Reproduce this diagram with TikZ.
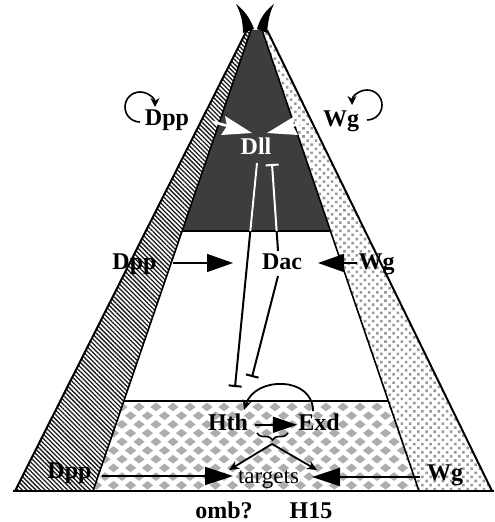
\documentclass[tikz,border=0pt]{standalone}
\usepackage{fontspec}
\setmainfont{Liberation Serif}
\usetikzlibrary{arrows.meta,patterns.meta,decorations.pathreplacing,calc}
\begin{document}
\begin{tikzpicture}[x=0.5pt,y=-0.5pt,
  lbl/.style={font=\fontsize{12}{14}\selectfont\bfseries, inner sep=0pt, anchor=base},
  edge/.style={line width=1pt},
  bigarrow/.style={line width=0.7pt, -{Triangle[length=13pt,width=9pt]}},
  botarrow/.style={line width=1pt, -{Triangle[length=14pt,width=9pt]}},
  inh/.style={line width=1pt, -{Bar[width=6.5pt,line width=1pt]}},
  looparrow/.style={line width=0.8pt, -{Stealth[length=4.5pt,width=4.5pt]}},
  whitehead/.style={fill=white},
  smallarrow/.style={line width=0.9pt, -{Stealth[length=5pt,width=4.5pt]}}]
\useasboundingbox (0,0) rectangle (494,522);
\fill[white] (0,0) rectangle (494,522);
% geometry
\coordinate (OLb) at (15,491);  \coordinate (OLt) at (247,30);
\coordinate (ILb) at (93,491);  \coordinate (ILt) at (251,30);
\coordinate (IRb) at (419,491); \coordinate (IRt) at (262,30);
\coordinate (ORb) at (492,491); \coordinate (ORt) at (267,30);
\coordinate (ILd) at (182,231); \coordinate (IRd) at (330.5,231);
\coordinate (ILc) at (123.8,401); \coordinate (IRc) at (388.3,401);
% dark Dll domain
\fill[black!76] (OLt) -- (ORt) -- (IRd) -- (ILd) -- cycle;
% bands
\fill[white] (OLb) -- (OLt) -- (ILt) -- (ILb) -- cycle;
\fill[pattern={Lines[angle=-45,distance=1.6pt,line width=0.65pt]}, pattern color=black!90]
  (OLb) -- (OLt) -- (ILt) -- (ILb) -- cycle;
\fill[white] (IRb) -- (IRt) -- (ORt) -- (ORb) -- cycle;
\fill[pattern={Dots[radius=0.9pt,distance=2.9pt,angle=45]}, pattern color=black!40]
  (IRb) -- (IRt) -- (ORt) -- (ORb) -- cycle;
% checkered proximal band
\begin{scope}
\clip (ILc) -- (IRc) -- (IRb) -- (ILb) -- cycle;
\foreach \j in {0,...,11} {
  \foreach \i in {0,...,20} {
    \pgfmathsetmacro{\cx}{88+17*\i+8.5*mod(\j,2)}
    \pgfmathsetmacro{\cy}{407+8.7*\j}
    \fill[black!32] (\cx-5.6,\cy) -- (\cx,\cy-4.3) -- (\cx+5.6,\cy) -- (\cx,\cy+4.3) -- cycle;
  }
}
\end{scope}
% outlines
\draw[edge] (OLb) -- (OLt);
\draw[edge] (ORt) -- (ORb);
\draw[line width=0.8pt] (ILb) -- (ILt);
\draw[line width=0.8pt] (IRb) -- (IRt);
\draw[line width=0.9pt] (ILd) -- (IRd);
\draw[line width=0.9pt] (ILc) -- (IRc);
\draw[line width=1.2pt] (13,491) -- (494,491);
% horns
\fill[black] (243,33) .. controls (243,20) and (240,12) .. (236,4)
  .. controls (244,10) and (250,18) .. (254,29) -- cycle;
\fill[black] (267,33) .. controls (268,20) and (270,12) .. (274,4)
  .. controls (266,10) and (260,18) .. (257,29) -- cycle;
% labels
\node[lbl] (dppT) at (167,126) {Dpp};
\node[lbl] (wgT) at (341,127) {Wg};
\node[lbl, text=white] (dll) at (256,155) {Dll};
\node[lbl] (dppM) at (134.5,270) {Dpp};
\node[lbl] (dac) at (282,270) {Dac};
\node[lbl] (wgM) at (376.5,270) {Wg};
\node[lbl] (hth) at (228,430) {Hth};
\node[lbl] (exd) at (319,430) {Exd};
\node[lbl] (dppB) at (69.5,478) {Dpp};
\node[lbl] (wgB) at (445,480) {Wg};
\node[font=\fontsize{11.5}{13}\selectfont, inner sep=0pt, anchor=base] (targets) at (268.5,483) {targets};
\node[lbl] (omb) at (224,518) {omb?};
\node[lbl] (h15) at (311,518) {H15};
% autoregulation loops
\draw[looparrow] (140,122) arc[start angle=90,end angle=360,radius=15];
\draw[looparrow] (367,120) arc[start angle=90,end angle=-180,radius=15];
% white arrows onto Dll
\coordinate (dppTin) at (213,122); \coordinate (dllL) at (252,133);
\coordinate (wgTin) at (303,122);  \coordinate (dllR) at (267,133);
\draw[white, line width=1.3pt] (dppTin) -- (228,126);
\fill[whitehead] (225,116) -- (dllL) -- (221,135) -- (227,126) -- cycle;
\draw[white, line width=1.3pt] (wgTin) -- (292,126);
\fill[whitehead] (295,116) -- (dllR) -- (298,135) -- (293,126) -- cycle;
% Dll -| Hth
\coordinate (a1) at (257,163); \coordinate (a2) at (235,387);
\draw[inh] (a1) -- (a2);
\draw[white, line width=1pt] (a1) -- ($(a1)!0.304!(a2)$);
% Dac -| Dll
\coordinate (b1) at (278,251); \coordinate (b2) at (272,164);
\draw[line width=1pt] (b1) -- ($(b1)!0.23!(b2)$);
\draw[inh, white] ($(b1)!0.23!(b2)$) -- (b2);
% Dac -| Hth
\coordinate (c1) at (278,276); \coordinate (c2) at (252,377);
\draw[inh] (c1) -- (c2);
% middle arrows
\coordinate (dppMo) at (173,263); \coordinate (dacL) at (233,263);
\coordinate (wgMo) at (357,263);  \coordinate (dacR) at (318,263);
\draw[bigarrow] (dppMo) -- (dacL);
\draw[bigarrow] (wgMo) -- (dacR);
% Hth -> Exd, Exd -> Hth
\draw[line width=0.8pt, -{Triangle[length=12pt,width=8pt]}] ($(hth.east)+(7,3)$) -- ($(exd.west)+(-1,3)$);
\draw[smallarrow] (313,411) .. controls (313,376) and (255,376) .. (244,410);
% brace and arrows to targets
\draw[line width=0.8pt, decorate, decoration={brace, mirror, amplitude=3.5pt}] (257,433) -- (288,433);
\coordinate (br) at (272,444);
\coordinate (tgL) at (229,470); \coordinate (tgR) at (317,470);
\draw[smallarrow] (br) -- (tgL);
\draw[smallarrow] (br) -- (tgR);
% bottom arrows
\coordinate (dppBo) at (102,476); \coordinate (tgLL) at (233,476);
\coordinate (wgBo) at (420,477);  \coordinate (tgRR) at (312,477);
\draw[botarrow] (dppBo) -- (tgLL);
\draw[botarrow] (wgBo) -- (tgRR);
\end{tikzpicture}
\end{document}
